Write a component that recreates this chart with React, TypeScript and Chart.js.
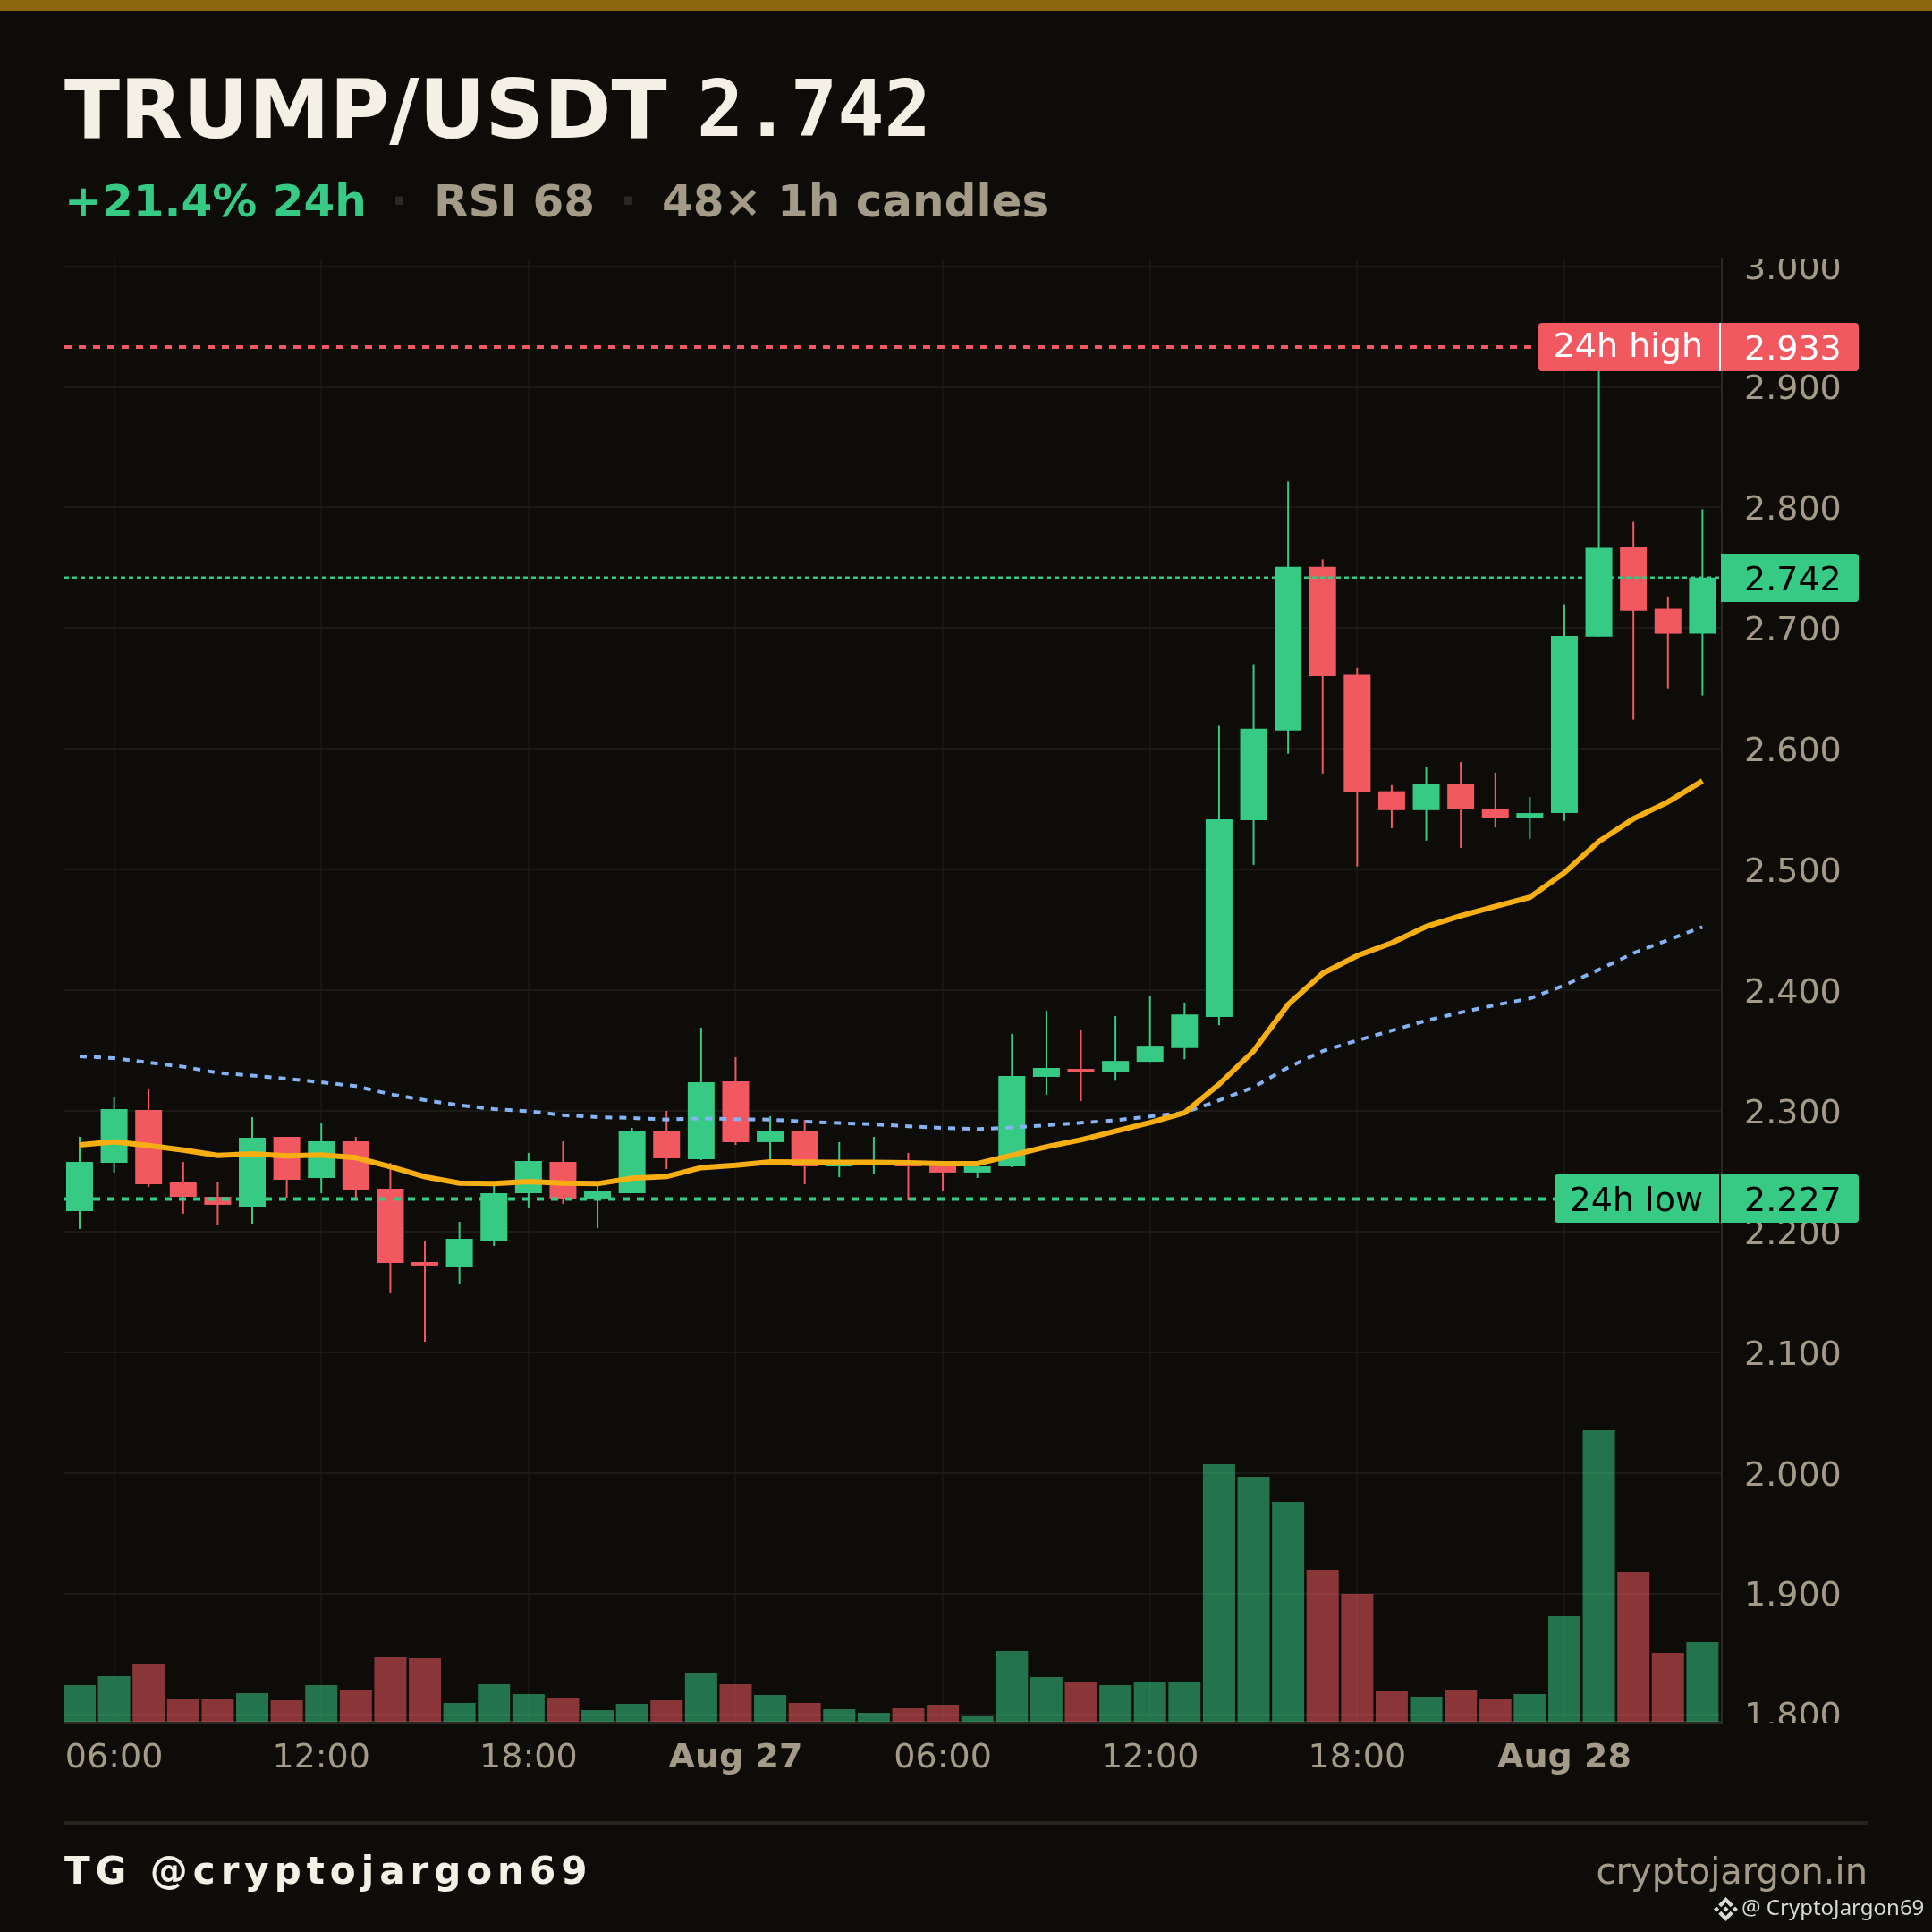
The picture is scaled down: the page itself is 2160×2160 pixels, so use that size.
import React, { useEffect, useRef } from "react";
import { Chart, registerables } from "chart.js";

Chart.register(...registerables);

const opens = [2.217,2.257,2.3007,2.2407,2.2288,2.2207,2.2785,2.2444,2.2748,2.2355,2.1747,2.171,2.1918,2.2318,2.2577,2.2274,2.2318,2.283,2.26,2.3245,2.2741,2.2837,2.254,2.2555,2.2585,2.257,2.2489,2.254,2.3282,2.3348,2.3319,2.3407,2.352,2.3779,2.541,2.6153,2.7509,2.6613,2.5649,2.5492,2.5707,2.5506,2.5424,2.5468,2.693,2.7673,2.7162,2.6954];
const closes = [2.2577,2.3015,2.2392,2.2288,2.2222,2.2778,2.2429,2.2748,2.2348,2.174,2.1718,2.194,2.2318,2.2585,2.2274,2.234,2.283,2.2607,2.3237,2.2741,2.283,2.254,2.2582,2.259,2.254,2.2489,2.254,2.3289,2.3356,2.3319,2.3414,2.354,2.3799,2.5417,2.6167,2.7509,2.6603,2.5639,2.5492,2.5707,2.5499,2.5424,2.5468,2.6937,2.7666,2.7145,2.6954,2.742];
const highs = [2.2785,2.3119,2.3185,2.2577,2.2407,2.2948,2.2785,2.2896,2.2785,2.257,2.1918,2.2081,2.2385,2.2652,2.2748,2.2397,2.2859,2.3,2.3689,2.3445,2.2956,2.2926,2.2741,2.2785,2.2652,2.258,2.257,2.3638,2.383,2.3675,2.3785,2.3949,2.3898,2.6191,2.6702,2.8215,2.7571,2.6671,2.57,2.5847,2.5891,2.5802,2.5601,2.7199,2.933,2.7881,2.7264,2.7986];
const lows = [2.2022,2.2489,2.237,2.2148,2.2051,2.2059,2.2281,2.2318,2.2281,2.1488,2.1087,2.1562,2.1881,2.22,2.2229,2.2029,2.2318,2.2518,2.2592,2.2718,2.258,2.2392,2.2451,2.2481,2.2259,2.2333,2.2444,2.2533,2.3133,2.3082,2.325,2.3405,2.3428,2.371,2.5039,2.5959,2.5796,2.5026,2.5342,2.524,2.5179,2.5349,2.5254,2.5404,2.693,2.6242,2.6501,2.6443];
const volumes = [41,51,65,25,25,32,24,41,36,73,71,21,42,31,27,13,20,24,55,42,30,21,14,10,15,19,7,79,50,45,41,44,45,288,274,246,170,143,35,28,36,25,31,118,326,168,77,89];
const emaFast = [2.2718,2.2745,2.2713,2.2676,2.2632,2.2644,2.2627,2.2634,2.2612,2.2538,2.2454,2.2402,2.2397,2.2414,2.2402,2.2397,2.2442,2.2456,2.253,2.255,2.2577,2.2575,2.2573,2.2573,2.257,2.2563,2.2563,2.2632,2.2703,2.276,2.2832,2.2903,2.2985,2.322,2.3496,2.3881,2.414,2.4286,2.4392,2.4528,2.4617,2.4695,2.477,2.4974,2.5233,2.5421,2.556,2.5734];
const emaSlow = [2.3452,2.3437,2.34,2.3366,2.3316,2.3292,2.3267,2.3237,2.3205,2.3138,2.3089,2.3047,2.3015,2.2998,2.2965,2.2948,2.2941,2.2928,2.2938,2.2931,2.2928,2.2911,2.2899,2.2889,2.2872,2.2859,2.2849,2.2862,2.2881,2.2901,2.2923,2.2954,2.2985,2.3088,2.3196,2.336,2.3496,2.3584,2.3666,2.3748,2.3816,2.3877,2.3932,2.4041,2.417,2.4307,2.4416,2.4525];
const timeTickIndex = [1,7,13,19,25,31,37,43];
const timeTickLabels = ["06:00","12:00","18:00","Aug 27","06:00","12:00","18:00","Aug 28"];
const priceTicks = [1.8,1.9,2.0,2.1,2.2,2.3,2.4,2.5,2.6,2.7,2.8,2.9,3.0];
const high24 = 2.933;
const low24 = 2.227;
const lastPrice = 2.742;

const BG = "#0d0c08";
const GREEN = "#37ca85";
const RED = "#f25860";
const GREEN_VOL = "rgba(55,202,133,0.55)";
const RED_VOL = "rgba(242,88,96,0.55)";
const MUTED = "#a39a87";
const CREAM = "#f4f0e6";
const ORANGE = "#f6ae12";
const BLUE = "#86b3f5";
const FONT = "'DejaVu Sans'";

const X_MIN = -0.44;
const X_MAX = 47.56;
const Y_MIN = 1.7937;
const Y_MAX = 3.0057;

const idx = opens.map((_, i) => i);
const isUp = idx.map((i) => closes[i] >= opens[i]);
const candleColors = isUp.map((u) => (u ? GREEN : RED));
const volumeColors = isUp.map((u) => (u ? GREEN_VOL : RED_VOL));

function badge(ctx: CanvasRenderingContext2D, yPx: number, bg: string, fg: string, value: string, label?: string, labelLeft?: number, labelBaseOffset?: number) {
  const top = Math.round(yPx - 27);
  const h = 54;
  ctx.save();
  ctx.fillStyle = bg;
  ctx.beginPath();
  (ctx as any).roundRect(1924, top, 154, h, [0, 4, 4, 0]);
  ctx.fill();
  ctx.font = `38px ${FONT}`;
  ctx.textBaseline = "alphabetic";
  ctx.fillStyle = fg;
  ctx.textAlign = "left";
  ctx.fillText(value, 1950, top + 41);
  if (label && labelLeft !== undefined) {
    ctx.fillStyle = bg;
    ctx.beginPath();
    (ctx as any).roundRect(labelLeft, top, 1922 - labelLeft, h, [4, 0, 0, 4]);
    ctx.fill();
    ctx.fillStyle = fg;
    ctx.fillRect(1922, top, 2, h);
    ctx.textAlign = "right";
    ctx.fillText(label, 1904, top + (labelBaseOffset ?? 41));
  }
  ctx.restore();
}

const overlayPlugin = {
  id: "overlay",
  afterUpdate(chart: any) {
    const items = chart.scales.y.getLabelItems(chart.chartArea);
    items.forEach((it: any) => {
      it.options.translation[1] += 4;
    });
  },
  beforeDatasetsDraw(chart: any) {
    const ctx = chart.ctx as CanvasRenderingContext2D;
    const { top, bottom, right } = chart.chartArea;
    ctx.save();
    ctx.fillStyle = BG;
    ctx.fillRect(right + 2, 0, 2160 - right - 2, top);
    ctx.fillRect(right + 2, bottom + 1, 2160 - right - 2, 50);
    ctx.restore();
  },
  afterDatasetsDraw(chart: any) {
    const ctx = chart.ctx as CanvasRenderingContext2D;
    const y = chart.scales.y;
    badge(ctx, y.getPixelForValue(high24), RED, "#ffffff", high24.toFixed(3), "24h high", 1720, 37.5);
    badge(ctx, y.getPixelForValue(low24), GREEN, "#000000", low24.toFixed(3), "24h low", 1738);
    badge(ctx, y.getPixelForValue(lastPrice), GREEN, "#000000", lastPrice.toFixed(3));
  },
};

function level(value: number, color: string, width: number, dash: number[], order: number) {
  return {
    type: "line",
    data: [{ x: X_MIN, y: value }, { x: X_MAX, y: value }],
    borderColor: color,
    borderWidth: width,
    borderDash: dash,
    pointRadius: 0,
    xAxisID: "x",
    yAxisID: "y",
    order,
  };
}

export default function App() {
  const ref = useRef<HTMLCanvasElement | null>(null);

  useEffect(() => {
    document.body.style.margin = "0";
    document.body.style.background = BG;
    const chart = new Chart(ref.current as HTMLCanvasElement, {
      type: "bar",
      data: {
        datasets: [
          {
            type: "bar",
            data: idx.map((i) => ({ x: i, y: volumes[i] })),
            backgroundColor: volumeColors,
            barThickness: 36,
            grouped: false,
            borderWidth: 0,
            inflateAmount: 0,
            xAxisID: "x",
            yAxisID: "vol",
            order: 10,
          },
          {
            type: "bar",
            data: idx.map((i) => ({ x: i, y: [lows[i], highs[i]] })),
            backgroundColor: candleColors,
            barThickness: 2,
            grouped: false,
            borderWidth: 0,
            borderSkipped: false,
            inflateAmount: 0,
            xAxisID: "x",
            yAxisID: "y",
            order: 9,
          },
          {
            type: "bar",
            data: idx.map((i) => ({ x: i, y: [opens[i], closes[i]] })),
            backgroundColor: candleColors,
            barThickness: 30,
            grouped: false,
            borderWidth: 0,
            borderSkipped: false,
            inflateAmount: 0,
            xAxisID: "x",
            yAxisID: "y",
            order: 8,
          },
          level(lastPrice, GREEN, 2.5, [5, 4], 7),
          level(high24, RED, 4, [8, 8], 6),
          level(low24, GREEN, 4, [8, 8], 6),
          {
            type: "line",
            data: idx.map((i) => ({ x: i, y: emaSlow[i] })),
            borderColor: BLUE,
            borderWidth: 4,
            borderDash: [8, 8],
            pointRadius: 0,
            tension: 0,
            xAxisID: "x",
            yAxisID: "y",
            order: 5,
          },
          {
            type: "line",
            data: idx.map((i) => ({ x: i, y: emaFast[i] })),
            borderColor: ORANGE,
            borderWidth: 6,
            pointRadius: 0,
            tension: 0,
            xAxisID: "x",
            yAxisID: "y",
            order: 4,
          },
        ],
      } as any,
      options: {
        animation: false,
        responsive: false,
        devicePixelRatio: 1,
        layout: { padding: { left: 72, top: 290, right: 0, bottom: 175 } },
        plugins: { legend: { display: false }, tooltip: { enabled: false }, title: { display: false } },
        scales: {
          x: {
            type: "linear",
            min: X_MIN,
            max: X_MAX,
            offset: false,
            afterBuildTicks: (s: any) => {
              s.ticks = timeTickIndex.map((value) => ({ value }));
            },
            afterFit: (s: any) => {
              s.height = 60;
            },
            grid: { offset: false, color: "#161511", lineWidth: 2, drawTicks: false },
            border: { color: "#2a2923", width: 3 },
            ticks: {
              autoSkip: false,
              maxRotation: 0,
              padding: 18,
              color: MUTED,
              font: (c: any) => {
                const label = timeTickLabels[timeTickIndex.indexOf(c.tick?.value)] || "";
                return { family: FONT, size: 38, weight: label.startsWith("Aug") ? "bold" : "normal" };
              },
              callback: (v: any) => timeTickLabels[timeTickIndex.indexOf(v)],
            },
          },
          y: {
            type: "linear",
            position: "right",
            min: Y_MIN,
            max: Y_MAX,
            afterBuildTicks: (s: any) => {
              s.ticks = priceTicks.map((value) => ({ value }));
            },
            afterFit: (s: any) => {
              s.width = 235;
            },
            grid: { color: "#1b1a16", lineWidth: 2, drawTicks: false },
            border: { color: "#2a2923", width: 2 },
            ticks: {
              padding: 25,
              color: MUTED,
              font: { family: FONT, size: 38 },
              callback: (v: any) => Number(v).toFixed(3),
            },
          },
          vol: {
            type: "linear",
            display: false,
            min: 0,
            max: 1635,
            grid: { display: false },
          },
        },
      } as any,
      plugins: [overlayPlugin as any],
    });
    return () => chart.destroy();
  }, []);

  const abs = (left: number, top: number, size: number, extra: React.CSSProperties = {}): React.CSSProperties => ({
    position: "absolute",
    left,
    top,
    fontSize: size,
    lineHeight: `${size}px`,
    fontFamily: FONT,
    whiteSpace: "pre",
    ...extra,
  });

  return (
    <div style={{ position: "relative", width: 2160, height: 2160, background: BG, overflow: "hidden" }}>
      <canvas ref={ref} width={2160} height={2160} style={{ position: "absolute", left: 0, top: 0, display: "block" }} />
      <div style={{ position: "absolute", left: 0, top: 0, width: 2160, height: 12, background: "#8c650f" }} />
      <div style={abs(72, 77, 91, { color: CREAM, fontWeight: 700 })}>TRUMP/USDT</div>
      <div style={abs(779, 79, 87, { color: CREAM, fontWeight: 700, fontFamily: "'DejaVu Sans Mono'" })}>2.742</div>
      <div style={abs(72, 200, 50, { color: GREEN, fontWeight: 700 })}>+21.4% 24h</div>
      <div style={abs(437, 200, 50, { color: "#2a2923", fontWeight: 700 })}>·</div>
      <div style={abs(485, 200, 50, { color: MUTED, fontWeight: 700 })}>RSI 68</div>
      <div style={abs(693, 200, 50, { color: "#2a2923", fontWeight: 700 })}>·</div>
      <div style={abs(740, 200, 50, { color: MUTED, fontWeight: 700 })}>48× 1h candles</div>
      <div style={{ position: "absolute", left: 72, top: 2036, width: 2016, height: 4, background: "#25231c" }} />
      <div style={abs(72, 2071, 42, { color: CREAM, fontWeight: 700, letterSpacing: 6 })}>TG @cryptojargon69</div>
      <div style={abs(1486, 2072, 40, { color: MUTED, width: 602, textAlign: "right" })}>cryptojargon.in</div>
      <svg viewBox="0 0 126.61 126.61" width={27} height={27} style={{ position: "absolute", left: 1916, top: 2121 }}>
        <path
          fill="#d8d8d4"
          d="M38.73 53.2l24.59-24.58 24.6 24.6 14.3-14.31L63.32 0 24.42 38.9zM0 63.31l14.3-14.31 14.31 14.31-14.31 14.3zM38.73 73.41l24.59 24.59 24.6-24.6 14.31 14.29-38.9 38.91-38.91-38.88zM98 63.31l14.3-14.31 14.31 14.3-14.31 14.32zM77.83 63.3L63.32 48.78 52.59 59.51l-1.24 1.23-2.54 2.54 14.51 14.5 14.51-14.47z"
        />
      </svg>
      <div style={abs(1947, 2120, 24, { color: "#d8d8d4", fontFamily: "'Noto Sans'" })}>@ CryptoJargon69</div>
    </div>
  );
}
